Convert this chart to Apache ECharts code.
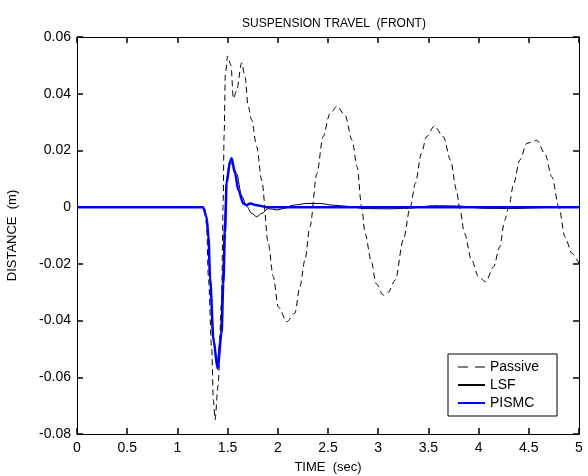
<!DOCTYPE html>
<html>
<head>
<meta charset="utf-8">
<script src="https://cdn.jsdelivr.net/npm/echarts@6/dist/echarts.min.js"></script>
<style>
  html, body { margin: 0; padding: 0; background: #fff; }
  #chart { width: 588px; height: 476px; }
</style>
</head>
<body>
<div id="chart"></div>
<script>
// values
const passiveTime = [0, 1.27, 1.29, 1.31, 1.342, 1.358, 1.375, 1.405, 1.44, 1.455, 1.465, 1.478, 1.50, 1.534, 1.557, 1.59, 1.64, 1.673, 1.706, 1.74, 1.79, 1.84, 1.905, 1.955, 2.005, 2.09, 2.17, 2.22, 2.27, 2.32, 2.39, 2.45, 2.52, 2.59, 2.67, 2.74, 2.79, 2.835, 2.87, 2.93, 2.98, 3.05, 3.10, 3.17, 3.25, 3.32, 3.37, 3.43, 3.48, 3.56, 3.65, 3.72, 3.78, 3.81, 3.86, 3.93, 4.0, 4.07, 4.15, 4.21, 4.26, 4.30, 4.35, 4.41, 4.48, 4.58, 4.66, 4.73, 4.80, 4.86, 4.93, 5.0]
const passiveDist = [0, 0, -0.006, -0.026, -0.050, -0.068, -0.075, -0.063, -0.033, 0.0, 0.025, 0.047, 0.0533, 0.050, 0.0383, 0.041, 0.0509, 0.046, 0.0354, 0.0307, 0.0213, 0.0095, -0.0128, -0.0246, -0.0352, -0.0404, -0.0374, -0.0281, -0.0187, -0.007, 0.0119, 0.0248, 0.033, 0.0356, 0.0324, 0.0236, 0.0142, 0.0001, -0.0093, -0.019, -0.027, -0.031, -0.030, -0.0257, -0.0116, 0.0001, 0.0084, 0.0189, 0.0248, 0.0286, 0.0248, 0.0166, 0.006, 0.0, -0.0093, -0.0187, -0.0246, -0.0263, -0.021, -0.014, -0.0046, 0.0, 0.0084, 0.0166, 0.0225, 0.0236, 0.0189, 0.0107, 0.0, -0.0105, -0.0163, -0.0199]

const lsfTime = [0, 1.26, 1.29, 1.31, 1.33, 1.36, 1.395, 1.43, 1.45, 1.47, 1.49, 1.52, 1.545, 1.59, 1.64, 1.69, 1.74, 1.79, 1.84, 1.905, 1.99, 2.055, 2.155, 2.29, 2.42, 2.55, 2.69, 2.87, 3.1, 3.3, 3.55, 3.8, 4.05, 4.35, 4.6, 4.85, 5.0]
const lsfDist = [0, 0, -0.004, -0.012, -0.027, -0.046, -0.055, -0.045, -0.025, -0.005, 0.010, 0.016, 0.015, 0.0119, 0.004, 0.0003, -0.0022, -0.0034, -0.0022, -0.0005, -0.001, -0.0005, 0.0007, 0.0013, 0.0013, 0.0007, 0.0003, -0.0005, -0.0006, -0.0004, 0.0005, 0.0004, -0.0004, -0.0005, -0.0002, 0.0001, 0]

const pismcTime = [0, 1.255, 1.29, 1.31, 1.325, 1.36, 1.40, 1.44, 1.457, 1.474, 1.49, 1.524, 1.54, 1.574, 1.607, 1.656, 1.69, 1.723, 1.79, 1.89, 5.0]
const pismcDist = [0, 0, -0.0034, -0.0105, -0.025, -0.047, -0.0569, -0.0445, -0.027, -0.009, 0.0084, 0.016, 0.0172, 0.0119, 0.006, 0.0013, 0.0007, 0.0013, 0.0007, 0, 0]

const timeTicks = [0, 0.5, 1, 1.5, 2, 2.5, 3, 3.5, 4, 4.5, 5]
const distTicks = [-0.08, -0.06, -0.04, -0.02, 0, 0.02, 0.04, 0.06]

const zip = (t, d) => t.map((x, i) => [x, d[i]])

const font = 'Liberation Sans, Arial, sans-serif'
const chart = echarts.init(document.getElementById('chart'))

// fresh axis object each call so nothing is shared between axes
const makeAxis = (ticks, step, position, extra) => Object.assign({
  type: 'value',
  position,
  min: ticks[0],
  max: ticks[ticks.length - 1],
  interval: step,
  splitLine: { show: false },
  axisLine: { show: true, onZero: false, lineStyle: { color: '#000', width: 1 } },
  axisTick: { show: true, inside: true, length: 6, lineStyle: { color: '#000', width: 1.5 } },
  axisLabel: { show: false }
}, extra)

chart.setOption({
  animation: false,
  title: {
    text: 'SUSPENSION TRAVEL  (FRONT)',
    left: 329,
    textAlign: 'center',
    top: 13,
    textStyle: { fontFamily: font, fontSize: 12, fontWeight: 'normal', color: '#000' }
  },
  grid: { left: 77, right: 9, top: 37, bottom: 42, outerBoundsMode: 'none' },
  legend: {
    orient: 'vertical',
    left: 448,
    top: 354,
    itemWidth: 27,
    itemHeight: 14,
    itemGap: 4,
    padding: [6, 18, 6, 9],
    borderColor: '#000',
    borderWidth: 1,
    borderRadius: 0,
    backgroundColor: '#fff',
    itemStyle: { opacity: 0 },
    textStyle: { fontFamily: font, fontSize: 14, color: '#000' },
    data: [
      { name: 'Passive', lineStyle: { type: [10, 7], width: 1 } },
      'LSF',
      'PISMC'
    ]
  },
  xAxis: [
    makeAxis(timeTicks, 0.5, 'bottom', {
      name: 'TIME  (sec)',
      nameLocation: 'middle',
      nameGap: 27,
      nameTextStyle: { fontFamily: font, fontSize: 13, color: '#000' },
      axisLabel: { show: true, color: '#000', fontSize: 14, fontFamily: font, margin: 7, formatter: v => String(Math.round(v * 10) / 10) }
    }),
    makeAxis(timeTicks, 0.5, 'top', {})
  ],
  yAxis: [
    makeAxis(distTicks, 0.02, 'left', {
      name: 'DISTANCE  (m)',
      nameLocation: 'middle',
      nameGap: 58,
      nameTextStyle: { fontFamily: font, fontSize: 13, color: '#000' },
      axisLabel: { show: true, color: '#000', fontSize: 14, fontFamily: font, margin: 6, formatter: v => String(Math.round(v * 100) / 100) }
    }),
    makeAxis(distTicks, 0.02, 'right', {})
  ],
  series: [
    {
      name: 'Passive',
      type: 'line',
      showSymbol: false,
      symbol: 'none',
      smooth: 0.3,
      smoothMonotone: 'x',
      color: '#000',
      lineStyle: { color: '#000', width: 1, type: [6, 4] },
      data: zip(passiveTime, passiveDist)
    },
    {
      name: 'LSF',
      type: 'line',
      showSymbol: false,
      symbol: 'none',
      smooth: 0.3,
      smoothMonotone: 'x',
      color: '#000',
      lineStyle: { color: '#000', width: 1 },
      data: zip(lsfTime, lsfDist)
    },
    {
      name: 'PISMC',
      type: 'line',
      showSymbol: false,
      symbol: 'none',
      smooth: 0.3,
      smoothMonotone: 'x',
      color: '#0000ff',
      lineStyle: { color: '#0000ff', width: 2.5 },
      data: zip(pismcTime, pismcDist)
    }
  ]
})

window.addEventListener('resize', () => chart.resize())
</script>
</body>
</html>
